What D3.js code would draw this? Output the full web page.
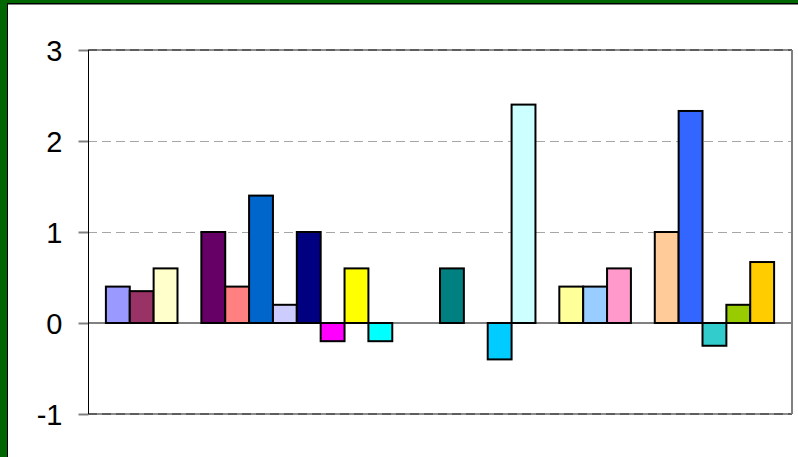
<!DOCTYPE html>
<html>
<head>
<meta charset="utf-8">
<script src="https://cdn.jsdelivr.net/npm/d3@7/dist/d3.min.js"></script>
<style>
  html, body { margin: 0; padding: 0; background: #fff; }
  svg { display: block; }
  text { font-family: Arial, "Liberation Sans", sans-serif; }
</style>
</head>
<body>
<svg id="chart" width="798" height="457"></svg>
<script>
// One category, 28 series; empty series are null and leave a gap.
const seriesNames = [
  "S1","S2","S3","S4","S5","S6","S7","S8","S9","S10","S11","S12","S13","S14",
  "S15","S16","S17","S18","S19","S20","S21","S22","S23","S24","S25","S26","S27","S28"
];
const seriesValues = [
  0.4, 0.35, 0.6, null,
  1.0, 0.4, 1.4, 0.2, 1.0, -0.2, 0.6, -0.2,
  null, null,
  0.6, null, -0.4, 2.4,
  null,
  0.4, 0.4, 0.6,
  null,
  1.0, 2.33, -0.25, 0.2, 0.67
];
const seriesColors = [
  "#9999FF","#993366","#FFFFCC","#CCFFFF","#660066","#FF8080","#0066CC","#CCCCFF",
  "#000080","#FF00FF","#FFFF00","#00FFFF","#800080","#800000","#008080","#0000FF",
  "#00CCFF","#CCFFFF","#CCFFCC","#FFFF99","#99CCFF","#FF99CC","#CC99FF","#FFCC99",
  "#3366FF","#33CCCC","#99CC00","#FFCC00"
];
const yTicks = [-1, 0, 1, 2, 3];

const svg = d3.select("#chart");
const W = 798, H = 457;

// Frame: green border with a thin black inner edge
svg.append("rect").attr("x", 0).attr("y", 0).attr("width", W).attr("height", H).attr("fill", "#006600");
svg.append("rect").attr("x", 8).attr("y", 4).attr("width", W).attr("height", H).attr("fill", "#ffffff");
svg.append("line").attr("x1", 7.5).attr("x2", 7.5).attr("y1", 3).attr("y2", H)
  .attr("stroke", "#000").attr("stroke-width", 1);
svg.append("line").attr("x1", 7).attr("x2", W).attr("y1", 3.75).attr("y2", 3.75)
  .attr("stroke", "#000").attr("stroke-width", 1.5);

const plot = { left: 88, right: 792, top: 50, bottom: 414 };

const x = d3.scaleBand()
  .domain(seriesNames)
  .range([plot.left, plot.right])
  .paddingInner(0)
  .paddingOuter(0.75);

const y = d3.scaleLinear()
  .domain([d3.min(yTicks), d3.max(yTicks)])
  .range([plot.bottom, plot.top]);

// Light dashed gridlines inside the plot
svg.append("g")
  .selectAll("line")
  .data(yTicks.filter(t => t !== 0 && t !== d3.min(yTicks) && t !== d3.max(yTicks)))
  .join("line")
  .attr("x1", plot.left).attr("x2", plot.right)
  .attr("y1", d => Math.round(y(d)) + 0.5).attr("y2", d => Math.round(y(d)) + 0.5)
  .attr("stroke", "#a6a6a6").attr("stroke-width", 1)
  .attr("stroke-dasharray", "9,5");

// Plot area border: top and bottom edges (gray with darker dashes), right edge solid
[d3.max(yTicks), d3.min(yTicks)].forEach(t => {
  const yy = Math.round(y(t));
  svg.append("line").attr("x1", plot.left).attr("x2", plot.right)
    .attr("y1", yy).attr("y2", yy).attr("stroke", "#8c8c8c").attr("stroke-width", 2);
  svg.append("line").attr("x1", plot.left).attr("x2", plot.right)
    .attr("y1", yy).attr("y2", yy).attr("stroke", "#5e5e5e").attr("stroke-width", 2)
    .attr("stroke-dasharray", "9,5");
});
svg.append("line").attr("x1", plot.right).attr("x2", plot.right)
  .attr("y1", plot.top).attr("y2", plot.bottom)
  .attr("stroke", "#808080").attr("stroke-width", 2);

// Zero line
svg.append("line").attr("x1", plot.left).attr("x2", plot.right)
  .attr("y1", y(0)).attr("y2", y(0))
  .attr("stroke", "#808080").attr("stroke-width", 2);

// Value axis
const yAxis = d3.axisLeft(y).tickValues(yTicks).tickSize(10).tickPadding(16)
  .tickFormat(d => String(d));
const ag = svg.append("g").attr("transform", `translate(${plot.left + 0.5},0)`).call(yAxis);
ag.select(".domain").remove();
ag.selectAll(".tick line").attr("stroke", "#808080").attr("stroke-width", 2);
ag.selectAll(".tick text")
  .attr("fill", "#000")
  .attr("font-size", 29)
  .attr("font-family", "Arial, 'Liberation Sans', sans-serif")
  .attr("dy", "0.36em");
svg.append("line").attr("x1", plot.left + 0.5).attr("x2", plot.left + 0.5)
  .attr("y1", plot.top).attr("y2", plot.bottom)
  .attr("stroke", "#000").attr("stroke-width", 1);

// Bars
const bars = seriesNames.map((name, i) => ({ name, value: seriesValues[i], color: seriesColors[i] }))
  .filter(d => d.value !== null);

svg.append("g")
  .selectAll("rect")
  .data(bars)
  .join("rect")
  .attr("x", d => x(d.name))
  .attr("width", x.bandwidth())
  .attr("y", d => y(Math.max(0, d.value)))
  .attr("height", d => Math.abs(y(d.value) - y(0)))
  .attr("fill", d => d.color)
  .attr("stroke", "#000")
  .attr("stroke-width", 2);
</script>
</body>
</html>
